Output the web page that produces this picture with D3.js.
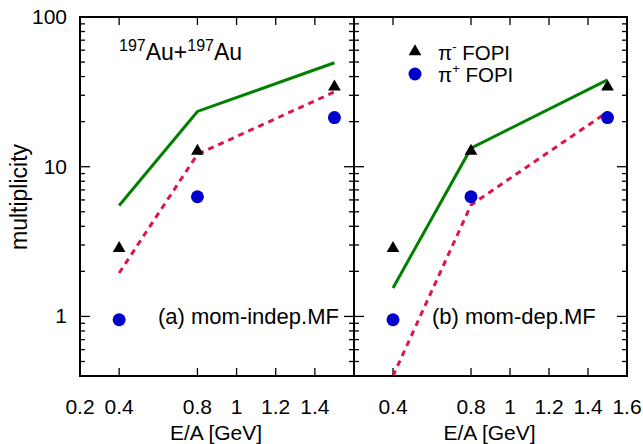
<!DOCTYPE html>
<html>
<head>
<meta charset="utf-8">
<script src="https://cdn.jsdelivr.net/npm/d3@7"></script>
<style>
  body { margin: 0; background: #fff; }
  text { font-family: "Liberation Sans", Arial, sans-serif; fill: #000; }
</style>
</head>
<body>
<svg width="643" height="444"></svg>
<script>
// data
const energies = [0.4, 0.8, 1.5];
const piMinusFOPI = [2.85, 12.7, 34.2];
const piPlusFOPI = [0.95, 6.3, 21.3];
const panelA_solid = [5.5, 23.4, 49.5];
const panelA_dashed = [1.95, 12.1, 31.6];
const panelB_solid = [1.55, 13.3, 38.0];
const panelB_dashed = [0.40, 5.55, 23.2];
const xTicksA = [0.2, 0.4, 0.8, 1, 1.2, 1.4];
const xTicksB = [0.4, 0.8, 1, 1.2, 1.4, 1.6];
const yMajor = [1, 10, 100];

const svg = d3.select('svg');
const yTop = 17, yBottom = 376;
const panels = [
  {left: 80, right: 354, solid: panelA_solid, dashed: panelA_dashed, ticks: xTicksA, label: '(a) mom-indep.MF', labelX: 158},
  {left: 354, right: 627, solid: panelB_solid, dashed: panelB_dashed, ticks: xTicksB, label: '(b) mom-dep.MF', labelX: 432}
];

const y = d3.scaleLog().domain([0.4, 100]).range([yBottom, yTop]);

// minor log ticks
let yMinor = [];
[0.1, 1, 10].forEach(dec => {
  for (let k = 2; k <= 9; k++) {
    const v = dec * k;
    if (v >= 0.4 && v <= 100) yMinor.push(v);
  }
});

panels.forEach((p, i) => {
  const x = d3.scaleLinear().domain([0.2, 1.6]).range([p.left, p.right]);
  const g = svg.append('g');

  const clipId = 'clip' + i;
  svg.append('clipPath').attr('id', clipId)
    .append('rect').attr('x', p.left).attr('y', yTop)
    .attr('width', p.right - p.left).attr('height', yBottom - yTop);

  // x ticks, bottom and top
  g.selectAll('.xt').data(p.ticks).enter().append('line')
    .attr('x1', d => x(d)).attr('x2', d => x(d))
    .attr('y1', yBottom).attr('y2', yBottom - 8)
    .attr('stroke', '#000').attr('stroke-width', 1.3);
  g.selectAll('.xtt').data(p.ticks).enter().append('line')
    .attr('x1', d => x(d)).attr('x2', d => x(d))
    .attr('y1', yTop).attr('y2', yTop + 8)
    .attr('stroke', '#000').attr('stroke-width', 1.3);
  g.selectAll('.xl').data(p.ticks).enter().append('text')
    .attr('x', d => x(d)).attr('y', 414)
    .attr('text-anchor', 'middle').attr('font-size', 21)
    .text(d => d3.format('')(d));

  // y ticks on both sides
  [p.left, p.right].forEach((edge, j) => {
    const dir = j === 0 ? 1 : -1;
    g.selectAll(null).data(yMajor).enter().append('line')
      .attr('x1', edge).attr('x2', edge + dir * 10)
      .attr('y1', d => y(d)).attr('y2', d => y(d))
      .attr('stroke', '#000').attr('stroke-width', 1.3);
    g.selectAll(null).data(yMinor).enter().append('line')
      .attr('x1', edge).attr('x2', edge + dir * 5)
      .attr('y1', d => y(d)).attr('y2', d => y(d))
      .attr('stroke', '#000').attr('stroke-width', 1.3);
  });

  const line = d3.line().x((d, k) => x(energies[k])).y(d => y(d));
  const lines = g.append('g').attr('clip-path', 'url(#' + clipId + ')');
  lines.append('path').datum(p.solid).attr('d', line)
    .attr('fill', 'none').attr('stroke', '#008000').attr('stroke-width', 3);
  lines.append('path').datum(p.dashed).attr('d', line)
    .attr('fill', 'none').attr('stroke', '#e0144c').attr('stroke-width', 3)
    .attr('stroke-dasharray', '6,5');

  g.selectAll('.tri').data(piMinusFOPI).enter().append('path')
    .attr('d', d3.symbol().type(d3.symbolTriangle).size(70))
    .attr('transform', (d, k) => `translate(${x(energies[k])},${y(d)})`)
    .attr('fill', '#000');
  g.selectAll('.circ').data(piPlusFOPI).enter().append('circle')
    .attr('cx', (d, k) => x(energies[k])).attr('cy', d => y(d))
    .attr('r', 6.5).attr('fill', '#0000cc');

  g.append('text').attr('x', p.labelX).attr('y', 324)
    .attr('font-size', 22).text(p.label);

  g.append('text').attr('x', (p.left + p.right) / 2 - 1).attr('y', 440)
    .attr('text-anchor', 'middle').attr('font-size', 21).text('E/A [GeV]');
});

// frames
svg.append('rect').attr('x', 80).attr('y', yTop).attr('width', 627 - 80).attr('height', yBottom - yTop)
  .attr('fill', 'none').attr('stroke', '#000').attr('stroke-width', 2);
svg.append('line').attr('x1', 354).attr('x2', 354).attr('y1', yTop).attr('y2', yBottom)
  .attr('stroke', '#000').attr('stroke-width', 2);

// y labels
svg.selectAll('.yl').data(yMajor).enter().append('text')
  .attr('x', 67).attr('y', d => y(d) + 7)
  .attr('text-anchor', 'end').attr('font-size', 21)
  .text(d => d);
svg.append('text').attr('transform', 'translate(27,197) rotate(-90)')
  .attr('text-anchor', 'middle').attr('font-size', 23).text('multiplicity');

// reaction label
const rx = svg.append('text').attr('x', 119).attr('y', 60).attr('font-size', 23);
rx.append('tspan').attr('font-size', 16).attr('dy', -9).text('197');
rx.append('tspan').attr('dy', 9).text('Au+');
rx.append('tspan').attr('font-size', 16).attr('dy', -9).text('197');
rx.append('tspan').attr('dy', 9).text('Au');

// legend
const legend = [
  {sym: 'tri', sup: '-'},
  {sym: 'circ', sup: '+'}
];
legend.forEach((l, k) => {
  const ly = 51.5 + k * 22.5;
  if (l.sym === 'tri') {
    svg.append('path').attr('d', d3.symbol().type(d3.symbolTriangle).size(70)())
      .attr('transform', `translate(415,${ly})`).attr('fill', '#000');
  } else {
    svg.append('circle').attr('cx', 415).attr('cy', ly).attr('r', 6.5).attr('fill', '#0000cc');
  }
  const t = svg.append('text').attr('x', 438).attr('y', ly + 8).attr('font-size', 20.5);
  t.append('tspan').text('\u03c0');
  t.append('tspan').attr('font-size', 13).attr('dy', -9).text(l.sup);
  t.append('tspan').attr('dy', 9).text(' FOPI');
});
</script>
</body>
</html>
